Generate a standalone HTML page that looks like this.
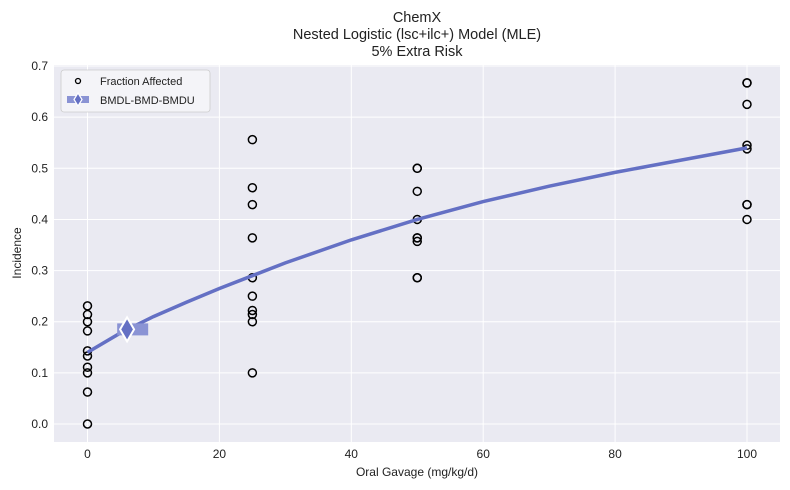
<!DOCTYPE html>
<html><head><meta charset="utf-8"><style>
body{margin:0;background:#fff;}
svg{display:block;font-family:"Liberation Sans",sans-serif;}
</style></head><body>
<svg id="chart" width="790" height="490">
<text x="417" y="22" text-anchor="middle" font-size="14.5" fill="#222">ChemX</text>
<text x="417" y="39" text-anchor="middle" font-size="14.5" fill="#222">Nested Logistic (lsc+ilc+) Model (MLE)</text>
<text x="417" y="56" text-anchor="middle" font-size="14.5" fill="#222">5% Extra Risk</text>
<rect x="54" y="65" width="726" height="377" fill="#eaeaf2"/>
<g id="grid"></g><g id="marks"></g>
<text x="417" y="476" text-anchor="middle" font-size="12" fill="#222">Oral Gavage (mg/kg/d)</text>
<text transform="translate(21,253) rotate(-90)" text-anchor="middle" font-size="12" fill="#222">Incidence</text>
<g>
<rect x="61" y="70" width="149" height="42" rx="3" fill="#f4f4f8" stroke="#ccc" stroke-width="0.8"/>
<circle cx="78" cy="81" r="2.5" fill="none" stroke="#000" stroke-width="1.3"/>
<text x="100" y="85" font-size="11" fill="#222">Fraction Affected</text>
<rect x="67" y="96" width="22" height="7" fill="#8a93d4"/>
<path d="M78,93 L82,99.5 L78,106 L74,99.5Z" fill="#6470c4" stroke="#fff" stroke-width="1.2"/>
<text x="100" y="104" font-size="11" fill="#222">BMDL-BMD-BMDU</text>
</g>
</svg>
<script>
const xTicks=[0,20,40,60,80,100];
const yTicks=[0.0,0.1,0.2,0.3,0.4,0.5,0.6,0.7];
const obsDose=[0,0,0,0,0,0,0,0,0,0,25,25,25,25,25,25,25,25,25,25,50,50,50,50,50,50,50,50,50,100,100,100,100,100,100,100,100];
const obsFrac=[0,0.0625,0.1,0.111,0.133,0.143,0.182,0.2,0.214,0.231,0.556,0.462,0.429,0.364,0.286,0.25,0.222,0.214,0.2,0.1,0.5,0.5,0.455,0.4,0.364,0.357,0.286,0.286,0.364,0.667,0.667,0.625,0.545,0.538,0.429,0.429,0.4];
const curveDose=[0,5,10,15,20,25,30,40,50,60,70,80,90,100];
const curveVal=[0.14,0.178,0.21,0.238,0.265,0.29,0.315,0.36,0.40,0.435,0.465,0.492,0.516,0.54];
const bmd=[6.0],bmdl=[4.5],bmdu=[9.2],bmdResp=[0.185];
const NS='http://www.w3.org/2000/svg';
const X=v=>87.5+v*6.595, Y=v=>424-v*511.4;
const grid=document.getElementById('grid'),marks=document.getElementById('marks'),svg=document.getElementById('chart');
function mk(tag,attrs,parent){const e=document.createElementNS(NS,tag);for(const k in attrs)e.setAttribute(k,attrs[k]);parent.appendChild(e);return e;}
xTicks.forEach(t=>{
 const l=mk('line',{x1:X(t),x2:X(t),y1:65,y2:442,stroke:'#fff','stroke-width':1},grid);
 
 
 const tx=mk('text',{x:X(t),y:458,'text-anchor':'middle','font-size':12,fill:'#222'},svg);tx.textContent=t;
 
 
});
yTicks.forEach(t=>{
 const l=mk('line',{x1:54,x2:780,y1:Y(t),y2:Y(t),stroke:'#fff','stroke-width':1},grid);
 
 
 const tx=mk('text',{x:48,y:Y(t)+4,'text-anchor':'end','font-size':12,fill:'#222'},svg);tx.textContent=t.toFixed(1);
 
 
});
obsDose.forEach((d,i)=>{
 const c=mk('circle',{cx:X(d),cy:Y(obsFrac[i]),r:4,fill:'none',stroke:'#000','stroke-width':1.5},marks);
 
 
});
const p=mk('path',{d:curveDose.map((d,i)=>(i?'L':'M')+X(d)+','+Y(curveVal[i])).join(' '),fill:'none',stroke:'#6470c4','stroke-width':3.5},marks);


const r=mk('rect',{x:X(bmdl[0]),y:Y(bmdResp[0])-6,width:X(bmdu[0])-X(bmdl[0]),height:12,fill:'#8a93d4'},marks);


const bx=X(bmd[0]),by=Y(bmdResp[0]);
const dm=mk('path',{d:`M${bx},${by-12} L${bx+7},${by} L${bx},${by+12} L${bx-7},${by}Z`,fill:'#6470c4',stroke:'#fff','stroke-width':2},marks);


</script>
</body></html>
